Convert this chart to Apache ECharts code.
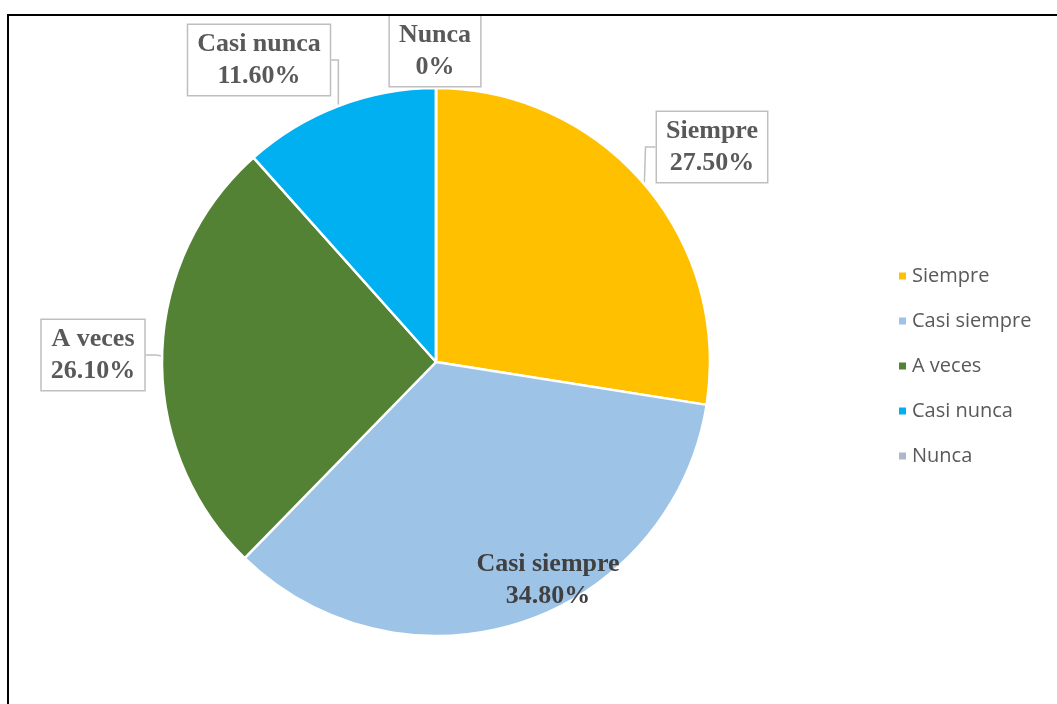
<!DOCTYPE html>
<html>
<head>
<meta charset="utf-8">
<script src="https://cdn.jsdelivr.net/npm/echarts@6/dist/echarts.min.js"></script>
<style>
  html, body { margin: 0; padding: 0; background: #fff; }
  #chart { width: 1057px; height: 704px; position: relative; }
  #frame { position: absolute; left: 7px; top: 14px; width: 1100px; height: 720px;
           border-left: 2px solid #000; border-top: 2px solid #000; pointer-events: none; }
</style>
</head>
<body>
<div id="chart"></div>
<div id="frame"></div>
<script>
// Response categories and their shares (%)
const categories = ['Siempre', 'Casi siempre', 'A veces', 'Casi nunca', 'Nunca'];
const shares = [27.5, 34.8, 26.1, 11.6, 0];
const colors = ['#FFC000', '#9DC3E6', '#548235', '#00B0F0', '#ADB9CA'];

// Where each callout box sits (pixel centre)
const calloutCentres = [[712, 147], [548, 580], [93, 355], [259, 60], [435, 51]];

const fmt = v => (v === 0 ? '0%' : v.toFixed(2) + '%');

const chart = echarts.init(document.getElementById('chart'), null, { renderer: 'canvas' });

const boxLabel = {
  show: true,
  position: 'outside',
  formatter: p => p.name + '\n' + fmt(p.value),
  fontFamily: 'Liberation Serif',
  fontWeight: 'bold',
  fontSize: 26,
  lineHeight: 32,
  color: '#595959',
  backgroundColor: '#fff',
  borderColor: '#bfbfbf',
  borderWidth: 1.5,
  padding: [3, 9, 3, 9],
  align: 'center'
};

chart.setOption({
  animation: false,
  color: colors,
  legend: {
    orient: 'vertical',
    left: 892,
    top: 259,
    itemWidth: 9,
    itemHeight: 9,
    itemGap: 21,
    icon: 'rect',
    selectedMode: false,
    data: categories,
    textStyle: {
      fontFamily: 'Open Sans',
      fontSize: 20,
      lineHeight: 24,
      color: '#595959',
      padding: [0, 0, 0, 0]
    }
  },
  series: [{
    type: 'pie',
    center: [436, 362],
    radius: 274,
    startAngle: 90,
    clockwise: true,
    avoidLabelOverlap: false,
    itemStyle: { borderColor: '#fff', borderWidth: 2.5 },
    label: boxLabel,
    labelLine: {
      show: true,
      length: 10,
      length2: 10,
      lineStyle: { color: '#bfbfbf', width: 1.5 }
    },
    labelLayout: p => {
      const c = calloutCentres[p.dataIndex];
      return { x: c[0], y: c[1], align: 'center', verticalAlign: 'middle', hideOverlap: false };
    },
    data: categories.map((name, i) => {
      const item = { name: name, value: shares[i] };
      if (i === 1) {
        item.label = {
          backgroundColor: 'transparent',
          borderWidth: 0,
          color: '#404040'
        };
        item.labelLine = { show: false };
      }
      return item;
    })
  }]
});
</script>
</body>
</html>
